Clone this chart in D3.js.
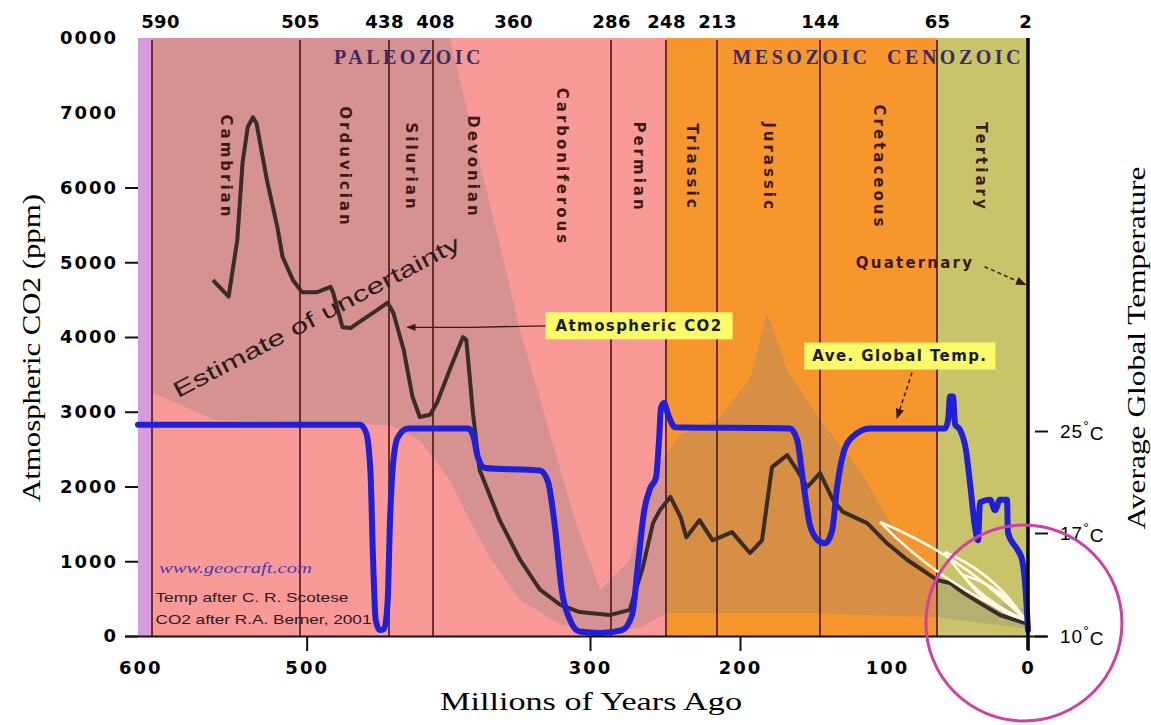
<!DOCTYPE html>
<html>
<head>
<meta charset="utf-8">
<script src="https://cdn.jsdelivr.net/npm/d3@7"></script>
<style>
    body { margin: 0; background: #fff; }
    svg { display: block; }
</style>
</head>
<body>
<svg id="chart" width="1151" height="725"></svg>
<script>
// ---- data (ages in millions of years ago) ----
const boundaryAges = [590, 505, 438, 408, 360, 286, 248, 213, 144, 65, 2];
const periodNames = ["Cambrian", "Orduvician", "Silurian", "Devonian", "Carboniferous",
    "Permian", "Triassic", "Jurassic", "Cretaceous", "Tertiary"];
const eraNames = ["PALEOZOIC", "MESOZOIC", "CENOZOIC"];
const eraStarts = [590, 248, 65];
const eraEnds = [248, 65, 0];

const xTicks = [600, 500, 300, 200, 100, 0];
const co2Ticks = [0, 1000, 2000, 3000, 4000, 5000, 6000, 7000, 8000];
const co2TickLabels = ["0", "1000", "2000", "3000", "4000", "5000", "6000", "7000", "0000"];
const tempTicks = [10, 17, 25];

// atmospheric CO2 (ppm), after Berner
const co2Ages = [555, 546, 541, 538, 535, 532, 530, 524, 518, 515,
    509, 503.5, 492, 482, 480, 473, 467, 458, 447, 439,
    435, 428, 422, 417, 410, 405.6, 398, 390, 388, 384,
    380, 368, 354.5, 339, 323, 308, 287, 273, 264, 257,
    252, 245, 238, 234, 225, 216, 204.5, 193, 184.6, 177.6,
    167, 160, 153, 144, 135.5, 129, 113, 100, 86, 72,
    65, 55.7, 46.4, 34.3, 20, 0];
const co2Values = [4760, 4540, 5300, 6330, 6810, 6940, 6860, 6100, 5470, 5070,
    4760, 4600, 4600, 4670, 4590, 4130, 4120, 4230, 4360, 4460,
    4320, 3830, 3200, 2930, 2960, 3120, 3560, 4000, 3960, 2980,
    2220, 1550, 1020, 620, 415, 320, 280, 350, 920, 1510,
    1690, 1860, 1590, 1320, 1550, 1280, 1390, 1110, 1280, 2260,
    2420, 2220, 1990, 2180, 1820, 1660, 1510, 1240, 1020, 840,
    750, 710, 580, 440, 280, 160];

// average global temperature (deg C), after Scotese
const tempAges = [602, 460, 455.3, 452, 450, 448, 445, 441.6, 439, 437.3,
    435, 432, 425, 387, 384, 381, 376.8, 339, 332.7, 327,
    322, 315.6, 308, 293, 278.4, 271.5, 267, 263, 259, 255,
    252.8, 251.5, 249.4, 246.6, 241.8, 165, 160, 156, 151, 145.4,
    140.7, 136, 133, 129, 123, 111, 59.3, 57, 55.7, 53.6,
    52, 48.6, 44.3, 41.4, 37.9, 35.7, 34.3, 27.1, 23.6, 20,
    15, 14.3, 7.1, 4.3, 2.1, 0];
const tempValues = [25.5, 25.5, 24.9, 21.9, 15.2, 11.1, 10.4, 10.5, 12.4, 18.0,
    22.7, 24.5, 25.2, 25.2, 24.7, 22.9, 22.1, 21.9, 21.0, 17.2,
    13.1, 11.1, 10.3, 10.2, 10.4, 11.4, 15.2, 18.8, 20.5, 21.3,
    24.3, 26.8, 27.2, 26.3, 25.3, 25.2, 24.3, 21.2, 17.6, 16.5,
    16.3, 17.2, 20.4, 23.1, 24.5, 25.2, 25.2, 25.9, 27.7, 27.7,
    25.5, 25.1, 23.5, 20.9, 17.5, 16.5, 19.4, 19.6, 18.8, 19.6,
    19.6, 17.0, 15.8, 15.2, 13.6, 10.4];

// estimate of uncertainty for CO2 (upper edge old->young, lower edge young->old)
const uncUpperAges = [590, 398, 386, 354.5, 311.7, 293, 273, 255.6, 238.4, 213, 193, 181, 167, 144, 118, 91, 65, 34, 0];
const uncUpperValues = [8000, 8000, 6900, 4090, 1550, 615, 1020, 2220, 2690, 2890, 3430, 4320, 3560, 2890, 2220, 1290, 750, 480, 350];
const uncLowerAges = [0, 65, 144, 225, 248, 266, 293, 323, 354.5, 373, 386, 398, 417, 437, 553.8, 590];
const uncLowerValues = [100, 250, 300, 300, 300, 110, 50, 150, 480, 1020, 1550, 2090, 2620, 2820, 2890, 3260];

// ---- chart ----
const svg = d3.select("#chart");
const plotTop = 38, plotBottom = 636;

// hand drawn time axis: not linear, so calibrate piecewise on ticks and boundaries
const x = d3.scaleLinear()
    .domain([602, 590, 505, 438, 408, 360, 300, 286, 248, 213, 200, 144, 100, 65, 0])
    .range([138, 152, 300, 389, 433, 513, 590, 611, 666, 717, 740, 820, 887, 937, 1028]);
const yCO2 = d3.scaleLinear().domain([0, 8000]).range([plotBottom, plotTop]);
const yTemp = d3.scaleLinear().domain([10, 17, 25]).range([636, 533, 431]);
const eraColor = d3.scaleOrdinal().domain(eraNames).range(["#f99a98", "#f8962e", "#c9c46a"]);

const defs = svg.append("defs");
defs.append("clipPath").attr("id", "plot")
    .append("rect")
    .attr("x", x(x.domain()[0])).attr("y", plotTop)
    .attr("width", x(0) - x(x.domain()[0])).attr("height", plotBottom - plotTop);
defs.append("marker")
    .attr("id", "arrow").attr("viewBox", "0 0 10 10")
    .attr("refX", 9).attr("refY", 5)
    .attr("markerWidth", 7).attr("markerHeight", 7)
    .attr("orient", "auto-start-reverse")
    .append("path").attr("d", "M0,1L10,5L0,9z").attr("fill", "#3a1a14");

// pre-cambrian strip + era bands
svg.append("rect")
    .attr("x", x(x.domain()[0]))
    .attr("y", plotTop)
    .attr("width", x(590) - x(x.domain()[0]))
    .attr("height", plotBottom - plotTop)
    .attr("fill", "#d99be0");

svg.selectAll("rect.era")
    .data(eraNames)
    .enter()
    .append("rect")
    .attr("class", "era")
    .attr("x", (d, i) => x(eraStarts[i]))
    .attr("y", plotTop)
    .attr("width", (d, i) => x(eraEnds[i]) - x(eraStarts[i]))
    .attr("height", plotBottom - plotTop)
    .attr("fill", d => eraColor(d));

// uncertainty envelope
const uncPoints = uncUpperAges.map((a, i) => [a, uncUpperValues[i]])
    .concat(uncLowerAges.map((a, i) => [a, uncLowerValues[i]]));
svg.append("path")
    .attr("clip-path", "url(#plot)")
    .attr("d", d3.line().x(d => x(d[0])).y(d => yCO2(d[1]))(uncPoints) + "Z")
    .attr("fill", "#7f7f7f")
    .attr("fill-opacity", 0.28);

// period boundaries (no line drawn at 360, the right edge is drawn as the axis)
svg.selectAll("line.boundary")
    .data(boundaryAges.filter(d => d !== 360 && d > 2))
    .enter()
    .append("line")
    .attr("class", "boundary")
    .attr("x1", d => x(d)).attr("x2", d => x(d))
    .attr("y1", plotTop + 2).attr("y2", plotBottom)
    .attr("stroke", "#4a1414")
    .attr("stroke-width", 1.6);

// period names
svg.selectAll("text.period")
    .data(periodNames)
    .enter()
    .append("text")
    .attr("class", "period")
    .attr("transform", (d, i) => `translate(${(x(boundaryAges[i]) + x(boundaryAges[i + 1])) / 2}, 167) rotate(90)`)
    .attr("text-anchor", "middle")
    .attr("dominant-baseline", "central")
    .style("font-family", "DejaVu Sans")
    .style("font-weight", "bold")
    .style("font-size", "15px")
    .style("letter-spacing", "3px")
    .attr("fill", "#3c1a10")
    .text(d => d);

// era names
svg.selectAll("text.era")
    .data(eraNames)
    .enter()
    .append("text")
    .attr("class", "era")
    .attr("x", (d, i) => (x(eraStarts[i]) + x(eraEnds[i])) / 2)
    .attr("y", 64)
    .attr("text-anchor", "middle")
    .style("font-family", "Liberation Serif")
    .style("font-weight", "bold")
    .style("font-size", "20px")
    .style("letter-spacing", "3.5px")
    .attr("fill", "#3c2a66")
    .text(d => d)
    .each(function () {
        // keep the label inside the plot on the right
        const box = this.getBBox();
        const over = box.x + box.width - (x(0) - 4);
        if (over > 0) d3.select(this).attr("x", +d3.select(this).attr("x") - over);
    });

// estimate of uncertainty label
svg.append("text")
    .attr("transform", `translate(${x(575)}, ${yCO2(3180)}) rotate(-27.8)`)
    .attr("textLength", 321)
    .attr("lengthAdjust", "spacingAndGlyphs")
    .style("font-family", "Liberation Sans")
    .style("font-size", "22px")
    .attr("fill", "#2a1c1c")
    .text("Estimate of uncertainty");

// CO2 curve
svg.append("path")
    .datum(co2Ages.map((a, i) => [a, co2Values[i]]))
    .attr("d", d3.line().x(d => x(d[0])).y(d => yCO2(d[1])))
    .attr("fill", "none")
    .attr("stroke", "#3a2c26")
    .attr("stroke-width", 4)
    .attr("stroke-linejoin", "round");

// white loops near the present
const loopEnd = [2, 214];
[[104.6, 1525, 9], [59.3, 1124, 8], [46.4, 816, 7]].forEach(function (l) {
    const x0 = x(l[0]), y0 = yCO2(l[1]), x1 = x(loopEnd[0]), y1 = yCO2(loopEnd[1]);
    const dx = x1 - x0, dy = y1 - y0, len = Math.hypot(dx, dy);
    const nx = -dy / len * l[2] * 2, ny = dx / len * l[2] * 2;
    const mx = (x0 + x1) / 2, my = (y0 + y1) / 2;
    const p = d3.path();
    p.moveTo(x0, y0);
    p.quadraticCurveTo(mx + nx, my + ny, x1, y1);
    p.quadraticCurveTo(mx - nx, my - ny, x0, y0);
    svg.append("path")
        .attr("d", p.toString())
        .attr("fill", "none")
        .attr("stroke", "#fffbe6")
        .attr("stroke-width", 2.5);
});

// credits
const credits = svg.append("g");
credits.append("text")
    .attr("x", x(586)).attr("y", yCO2(910))
    .attr("dominant-baseline", "central")
    .attr("textLength", 153).attr("lengthAdjust", "spacingAndGlyphs")
    .style("font-family", "Liberation Serif").style("font-style", "italic").style("font-size", "15px")
    .attr("fill", "#4a3aa8")
    .text("www.geocraft.com");
credits.append("text")
    .attr("x", x(588)).attr("y", yCO2(510))
    .attr("dominant-baseline", "central")
    .attr("textLength", 193).attr("lengthAdjust", "spacingAndGlyphs")
    .style("font-family", "Liberation Sans").style("font-size", "13px")
    .attr("fill", "#2a1a1a")
    .text("Temp after C. R. Scotese");
credits.append("text")
    .attr("x", x(588)).attr("y", yCO2(215))
    .attr("dominant-baseline", "central")
    .attr("textLength", 216).attr("lengthAdjust", "spacingAndGlyphs")
    .style("font-family", "Liberation Sans").style("font-size", "13px")
    .attr("fill", "#2a1a1a")
    .text("CO2 after R.A. Berner, 2001");

// temperature curve
svg.append("path")
    .datum(tempAges.map((a, i) => [a, tempValues[i]]))
    .attr("d", d3.line().curve(d3.curveMonotoneX).x(d => x(d[0])).y(d => yTemp(d[1])))
    .attr("fill", "none")
    .attr("stroke", "#1f1fd6")
    .attr("stroke-width", 6)
    .attr("stroke-linejoin", "round")
    .attr("stroke-linecap", "round");

// yellow labels with pointers
function yellowLabel(text, cx, cy, pad) {
    const g = svg.append("g");
    const t = g.append("text")
        .attr("x", cx).attr("y", cy)
        .attr("text-anchor", "middle")
        .attr("dominant-baseline", "central")
        .style("font-family", "DejaVu Sans")
        .style("font-weight", "bold")
        .style("font-size", "15px")
        .style("letter-spacing", "1.4px")
        .attr("fill", "#1a1a1a")
        .text(text);
    const w = t.node().getComputedTextLength() + 2 * pad;
    g.insert("rect", "text")
        .attr("x", cx - w / 2).attr("y", cy - 13.5)
        .attr("width", w).attr("height", 27)
        .attr("fill", "#fbfb6a");
    return {left: cx - w / 2, right: cx + w / 2, top: cy - 13.5, bottom: cy + 13.5};
}

const co2Box = yellowLabel("Atmospheric CO2", x(266.6), yCO2(4150), 10);
svg.append("path")
    .attr("d", d3.line()([[co2Box.left, yCO2(4150)], [x(384), yCO2(4130)], [x(425.5), yCO2(4130)]]))
    .attr("fill", "none")
    .attr("stroke", "#3a1a14")
    .attr("stroke-width", 1.3)
    .attr("marker-end", "url(#arrow)");

const tempBox = yellowLabel("Ave. Global Temp.", x(91), yCO2(3745), 8);
svg.append("line")
    .attr("x1", x(82.5)).attr("y1", tempBox.bottom + 3)
    .attr("x2", x(93)).attr("y2", yTemp(26.0))
    .attr("stroke", "#3a1a14")
    .attr("stroke-width", 1.5)
    .attr("stroke-dasharray", "4,3")
    .attr("marker-end", "url(#arrow)");

// Quaternary pointer
svg.append("text")
    .attr("x", x(80.4)).attr("y", yCO2(4990))
    .attr("text-anchor", "middle")
    .attr("dominant-baseline", "central")
    .style("font-family", "DejaVu Sans")
    .style("font-weight", "bold")
    .style("font-size", "15px")
    .style("letter-spacing", "2.2px")
    .attr("fill", "#3c1a10")
    .text("Quaternary");
svg.append("line")
    .attr("x1", x(31)).attr("y1", yCO2(4940))
    .attr("x2", x(1.8)).attr("y2", yCO2(4700))
    .attr("stroke", "#3a1a14")
    .attr("stroke-width", 1.5)
    .attr("stroke-dasharray", "4,3")
    .attr("marker-end", "url(#arrow)");

// ---- axes ----
// right edge of the plot
svg.append("line")
    .attr("x1", x(0)).attr("x2", x(0))
    .attr("y1", plotTop).attr("y2", plotBottom + 14)
    .attr("stroke", "#000")
    .attr("stroke-width", 3.5);
// baseline
svg.append("line")
    .attr("x1", 125).attr("x2", 1047)
    .attr("y1", plotBottom + 0.5).attr("y2", plotBottom + 0.5)
    .attr("stroke", "#111")
    .attr("stroke-width", 2);

function styleTicks(g, spacing) {
    g.select(".domain").remove();
    g.attr("font-family", "DejaVu Sans")
        .attr("font-size", 18)
        .attr("font-weight", "bold")
        .style("letter-spacing", spacing || "2px");
    g.selectAll(".tick line").attr("stroke", "#111").attr("stroke-width", 2);
}

svg.append("g")
    .attr("transform", "translate(0, 31)")
    .call(d3.axisTop(x).tickValues(boundaryAges).tickSize(0).tickPadding(3))
    .call(styleTicks, "0.3px")
    .call(g => g.selectAll(".tick text").attr("dx", d => d === 438 ? -5 : d === 590 ? 8 : d === 408 ? 2 : 0));

svg.append("g")
    .attr("transform", `translate(0, ${plotBottom})`)
    .call(d3.axisBottom(x).tickValues(xTicks).tickSize(15).tickPadding(10))
    .call(styleTicks)
    .call(g => g.selectAll(".tick line").filter(d => d === 600 || d === 100).remove());

svg.append("g")
    .attr("transform", `translate(${x(x.domain()[0])}, 0)`)
    .call(d3.axisLeft(yCO2).tickValues(co2Ticks).tickSize(13).tickPadding(7)
        .tickFormat((d, i) => co2TickLabels[i]))
    .call(styleTicks)
    .call(g => g.selectAll(".tick line").filter(d => d >= 7000).remove());

svg.append("g")
    .attr("transform", "translate(1035, 0)")
    .call(d3.axisRight(yTemp).tickValues(tempTicks).tickSize(13).tickPadding(12))
    .call(g => g.select(".domain").remove())
    .call(g => g.selectAll(".tick line").attr("stroke", "#111").attr("stroke-width", 2))
    .call(g => g.selectAll(".tick text").each(function (d) {
        const t = d3.select(this).text("")
            .attr("font-family", "Liberation Sans")
            .attr("font-size", 19)
            .style("letter-spacing", "1px");
        t.append("tspan").text(d);
        t.append("tspan").attr("dy", "-0.45em").attr("font-size", 14).text("°");
        t.append("tspan").attr("dy", "0.45em").text("C");
    }));

// axis titles
svg.append("text")
    .attr("transform", "translate(31, 348) rotate(-90)")
    .attr("text-anchor", "middle")
    .attr("dominant-baseline", "central")
    .attr("textLength", 308).attr("lengthAdjust", "spacingAndGlyphs")
    .style("font-family", "Liberation Serif")
    .style("font-size", "25px")
    .text("Atmospheric CO2 (ppm)");

svg.append("text")
    .attr("transform", "translate(1136, 348) rotate(-90)")
    .attr("text-anchor", "middle")
    .attr("dominant-baseline", "central")
    .attr("textLength", 363).attr("lengthAdjust", "spacingAndGlyphs")
    .style("font-family", "Liberation Serif")
    .style("font-size", "25px")
    .text("Average Global Temperature");

svg.append("text")
    .attr("x", 591).attr("y", 710)
    .attr("text-anchor", "middle")
    .attr("textLength", 302).attr("lengthAdjust", "spacingAndGlyphs")
    .style("font-family", "Liberation Serif")
    .style("font-size", "26px")
    .text("Millions of Years Ago");

// highlight circle around the present
svg.append("circle")
    .attr("cx", x(2.9)).attr("cy", yCO2(174))
    .attr("r", 98)
    .attr("fill", "none")
    .attr("stroke", "#cf3fa6")
    .attr("stroke-width", 3);
</script>
</body>
</html>
